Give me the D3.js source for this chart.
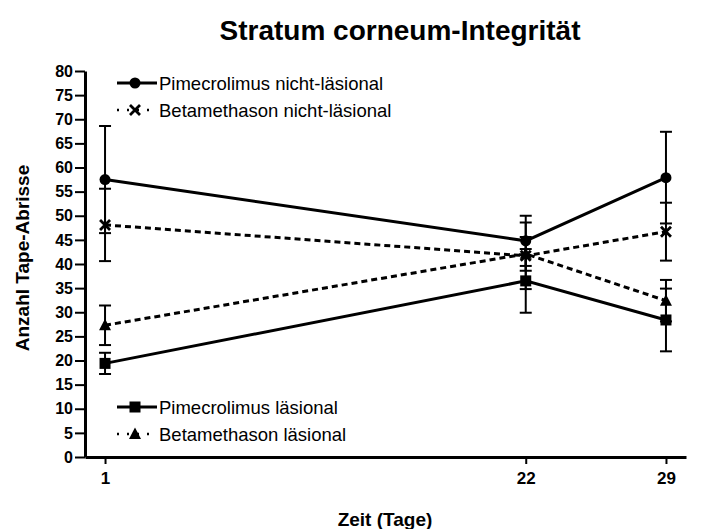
<!DOCTYPE html>
<html>
<head>
<meta charset="utf-8">
<script src="https://cdn.jsdelivr.net/npm/d3@7"></script>
<style>
  body { margin: 0; background: #fff; }
  text { font-family: "Liberation Sans", Arial, sans-serif; }
</style>
</head>
<body>
<svg width="702" height="529"></svg>
<script>
// data
var days = [1, 22, 29];
var xTicks = [1, 22, 29];
var yTicks = d3.range(0, 81, 5);

var pimeNL = [57.5, 44.8, 57.9], pimeNLErr = [11.1, 5.2, 9.5];
var betaNL = [48.1, 41.7, 46.7], betaNLErr = [7.5, 6.9, 6.0];
var pimeL = [19.4, 36.5, 28.4], pimeLErr = [2.2, 6.6, 6.5];
var betaL = [27.3, 42.1, 32.4], betaLErr = [4.1, 3.5, 4.3];

var series = [
  { name: "Pimecrolimus nicht-läsional", mean: pimeNL, err: pimeNLErr, dash: null, marker: "circle" },
  { name: "Betamethason nicht-läsional", mean: betaNL, err: betaNLErr, dash: "6,4", marker: "cross" },
  { name: "Pimecrolimus läsional", mean: pimeL, err: pimeLErr, dash: null, marker: "square" },
  { name: "Betamethason läsional", mean: betaL, err: betaLErr, dash: "6,4", marker: "triangle" }
];

var svg = d3.select("svg");

var x = d3.scaleLinear().domain([0, 30]).range([85, 686]);
var y = d3.scaleLinear().domain([0, 80]).range([457, 71]);

// title
svg.append("text")
  .attr("x", 400).attr("y", 40)
  .attr("text-anchor", "middle")
  .style("font-size", "28px").style("font-weight", "bold")
  .text("Stratum corneum-Integrität");

// y axis
var yAxis = svg.append("g")
  .attr("transform", "translate(" + x(0) + ",0)")
  .call(d3.axisLeft(y).tickValues(yTicks).tickSize(10).tickSizeOuter(0).tickPadding(2));
yAxis.select(".domain").attr("stroke-width", 3);
yAxis.selectAll(".tick line").attr("stroke-width", 2);
yAxis.selectAll(".tick text")
  .style("font-size", "16px").style("font-weight", "bold").attr("fill", "#000");

// x axis
var xAxis = svg.append("g")
  .attr("transform", "translate(0," + y(0) + ")")
  .call(d3.axisBottom(x).tickValues(xTicks).tickSize(7).tickSizeOuter(0).tickPadding(8));
xAxis.select(".domain").attr("stroke-width", 3);
xAxis.selectAll(".tick line").attr("stroke-width", 2);
xAxis.selectAll(".tick text")
  .style("font-size", "17px").style("font-weight", "bold").attr("fill", "#000");

// axis titles
svg.append("text")
  .attr("x", 385).attr("y", 526)
  .attr("text-anchor", "middle")
  .style("font-size", "19px").style("font-weight", "bold")
  .text("Zeit (Tage)");
svg.append("text")
  .attr("transform", "translate(29,258) rotate(-90)")
  .attr("text-anchor", "middle")
  .style("font-size", "19px").style("font-weight", "bold")
  .text("Anzahl Tape-Abrisse");

function drawMarker(g, type, cx, cy) {
  if (type === "circle") {
    g.append("circle").attr("cx", cx).attr("cy", cy).attr("r", 5.5).attr("fill", "#000");
  } else if (type === "square") {
    g.append("rect").attr("x", cx - 5.5).attr("y", cy - 5.5).attr("width", 11).attr("height", 11).attr("fill", "#000");
  } else if (type === "triangle") {
    g.append("path").attr("d", "M" + cx + "," + (cy - 6.5) + "L" + (cx + 6) + "," + (cy + 5) + "L" + (cx - 6) + "," + (cy + 5) + "Z").attr("fill", "#000");
  } else if (type === "cross") {
    g.append("path").attr("d", "M" + (cx - 5) + "," + (cy - 5) + "L" + (cx + 5) + "," + (cy + 5) + "M" + (cx + 5) + "," + (cy - 5) + "L" + (cx - 5) + "," + (cy + 5))
      .attr("stroke", "#000").attr("stroke-width", 2.8).attr("fill", "none");
  }
}

var line = d3.line().x(function (d) { return x(d[0]); }).y(function (d) { return y(d[1]); });
var plot = svg.append("g");

// error bars
series.forEach(function (s) {
  days.forEach(function (d, i) {
    var top = y(s.mean[i] + s.err[i]), bot = y(s.mean[i] - s.err[i]), cx = x(d);
    plot.append("line").attr("x1", cx).attr("x2", cx).attr("y1", top).attr("y2", bot)
      .attr("stroke", "#000").attr("stroke-width", 2);
    [top, bot].forEach(function (yy) {
      plot.append("line").attr("x1", cx - 6).attr("x2", cx + 6).attr("y1", yy).attr("y2", yy)
        .attr("stroke", "#000").attr("stroke-width", 2);
    });
  });
});

// lines and markers
series.forEach(function (s) {
  plot.append("path")
    .datum(days.map(function (d, i) { return [d, s.mean[i]]; }))
    .attr("d", line)
    .attr("fill", "none").attr("stroke", "#000").attr("stroke-width", 3)
    .attr("stroke-dasharray", s.dash);
  days.forEach(function (d, i) { drawMarker(plot, s.marker, x(d), y(s.mean[i])); });
});

// legends
var legendRows = [
  { s: series[0], y: 83 },
  { s: series[1], y: 110 },
  { s: series[2], y: 407 },
  { s: series[3], y: 434 }
];
legendRows.forEach(function (r) {
  var g = svg.append("g");
  if (r.s.dash) {
    g.append("line").attr("x1", 117).attr("x2", 157).attr("y1", r.y).attr("y2", r.y)
      .attr("stroke", "#000").attr("stroke-width", 2.5).attr("stroke-dasharray", "2,8");
  } else {
    g.append("line").attr("x1", 117).attr("x2", 157).attr("y1", r.y).attr("y2", r.y)
      .attr("stroke", "#000").attr("stroke-width", 3);
  }
  drawMarker(g, r.s.marker, 135, r.y);
  g.append("text").attr("x", 159).attr("y", r.y + 6.5)
    .style("font-size", "18.5px").text(r.s.name);
});
</script>
</body>
</html>
